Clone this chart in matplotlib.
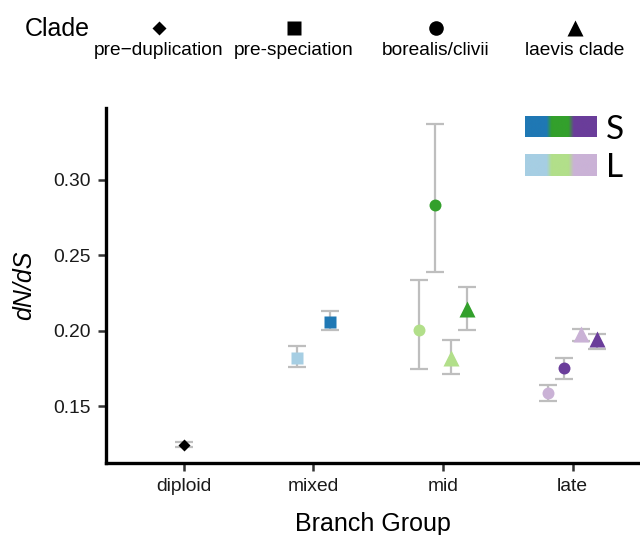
import matplotlib
matplotlib.use("Agg")
import numpy as np
import matplotlib.pyplot as plt
from matplotlib.colors import LinearSegmentedColormap

plt.rcParams['font.family'] = ['Liberation Sans', 'DejaVu Sans']

# ---- data -------------------------------------------------------------
groups = ["diploid", "mixed", "mid", "late"]
clades = ["pre\u2212duplication", "pre-speciation", "borealis/clivii", "laevis clade"]

pt_group = ["diploid", "mixed", "mixed", "mid", "mid", "mid", "mid",
            "late", "late", "late", "late"]
pt_clade = ["pre\u2212duplication", "pre-speciation", "pre-speciation",
            "borealis/clivii", "borealis/clivii", "laevis clade", "laevis clade",
            "borealis/clivii", "borealis/clivii", "laevis clade", "laevis clade"]
pt_subgenome = ["", "L", "S", "L", "S", "L", "S", "L", "S", "L", "S"]
dnds = [0.1247, 0.1819, 0.2058, 0.2005, 0.2836, 0.1824, 0.2148,
        0.1587, 0.1757, 0.1978, 0.1946]
ci_low = [0.1233, 0.1760, 0.2007, 0.1746, 0.2393, 0.1713, 0.2009,
          0.1536, 0.1684, 0.1936, 0.1883]
ci_high = [0.1262, 0.1903, 0.2134, 0.2340, 0.3373, 0.1940, 0.2293,
           0.1640, 0.1819, 0.2013, 0.1982]

# ---- styles -----------------------------------------------------------
clade_marker = {"pre\u2212duplication": "D", "pre-speciation": "s",
                "borealis/clivii": "o", "laevis clade": "^"}
marker_size = {"D": 6.2, "s": 9.0, "o": 8.6, "^": 11.2}
legend_marker_size = {"D": 7.2, "s": 10.0, "o": 10.5, "^": 12.0}
palette = {
    ("diploid", ""): "#000000",
    ("mixed", "L"): "#A6CEE3", ("mixed", "S"): "#1F78B4",
    ("mid", "L"): "#B2DF8A", ("mid", "S"): "#33A02C",
    ("late", "L"): "#CAB2D6", ("late", "S"): "#6A3D9A",
}
s_colors = ["#1F78B4", "#33A02C", "#6A3D9A"]
l_colors = ["#A6CEE3", "#B2DF8A", "#CAB2D6"]
err_color = "#BEBEBE"
dodge_width = 0.5

W, H = 640, 535


def fx(px):
    return px / W


def fy(py):
    return 1 - py / H


fig = plt.figure(figsize=(W / 100, H / 100), dpi=100)
fig.patch.set_facecolor("white")

# main panel
ax = fig.add_axes([fx(106), fy(463), fx(640) - fx(106), fy(108) - fy(463)])
ax.set_xlim(0.398, 4.521)
ax.set_ylim(0.11258, 0.34768)

# dodge points within each branch group
xpos = []
for i, g in enumerate(pt_group):
    members = [j for j, gg in enumerate(pt_group) if gg == g]
    n = len(members)
    k = members.index(i)
    xpos.append(groups.index(g) + 1 + (k - (n - 1) / 2) * dodge_width / n)

y = np.array(dnds)
lo = np.array(ci_low)
hi = np.array(ci_high)
ax.errorbar(xpos, y, yerr=[y - lo, hi - y], fmt="none", ecolor=err_color,
            elinewidth=1.6, capsize=6.8, capthick=1.6, zorder=2, clip_on=False)
for xi, yi, g, c, s in zip(xpos, dnds, pt_group, pt_clade, pt_subgenome):
    m = clade_marker[c]
    ax.plot([xi], [yi], marker=m, ms=marker_size[m], color=palette[(g, s)],
            mec="none", linestyle="none", zorder=3, clip_on=False)

for side in ("top", "right"):
    ax.spines[side].set_visible(False)
for side in ("left", "bottom"):
    ax.spines[side].set_linewidth(2.4)
    ax.spines[side].set_color("black")

ax.set_xticks(range(1, len(groups) + 1))
ax.set_xticklabels(groups)
ax.set_yticks([0.15, 0.20, 0.25, 0.30])
ax.set_yticklabels(["0.15", "0.20", "0.25", "0.30"])
ax.tick_params(length=6, width=1.8, color="#333333", labelsize=13.9,
               labelcolor="#1a1a1a", pad=5)

fig.text(fx(373), fy(531), "Branch Group", size=18, ha="center", va="baseline")
fig.text(fx(24), fy(285.5), "dN/dS", size=18, style="italic", rotation=90,
         ha="center", va="center")

# clade legend across the top
lax = fig.add_axes([0, 0, 1, 1])
lax.set_xlim(0, W)
lax.set_ylim(H, 0)
lax.axis("off")
lax.patch.set_alpha(0)
lax.text(25, 36, "Clade", size=18, ha="left", va="baseline")
key_x = [159, 294, 436, 575]
for kx, c in zip(key_x, clades):
    m = clade_marker[c]
    lax.plot([kx], [28], marker=m, ms=legend_marker_size[m], color="black",
             mec="none", linestyle="none")
    lax.text(kx, 55, c, size=13.8, ha="center", va="baseline")

# subgenome colour keys
grad_nodes = [0.0, 0.30, 0.37, 0.605, 0.68, 1.0]


def gradient_cmap(cols):
    seq = [cols[0], cols[0], cols[1], cols[1], cols[2], cols[2]]
    return LinearSegmentedColormap.from_list("g", list(zip(grad_nodes, seq)))


ramp = np.linspace(0, 1, 256).reshape(1, -1)
for cols, top, bot, label, base in ((s_colors, 116, 137, "S", 139),
                                    (l_colors, 154, 176, "L", 177)):
    kax = fig.add_axes([fx(525), fy(bot), fx(597) - fx(525), fy(top) - fy(bot)])
    kax.imshow(ramp, aspect="auto", cmap=gradient_cmap(cols))
    kax.axis("off")
    lax.text(606, base, label, size=24, family=["Lato", "DejaVu Sans"],
             ha="left", va="baseline")

fig.savefig("out.png", dpi=100)
